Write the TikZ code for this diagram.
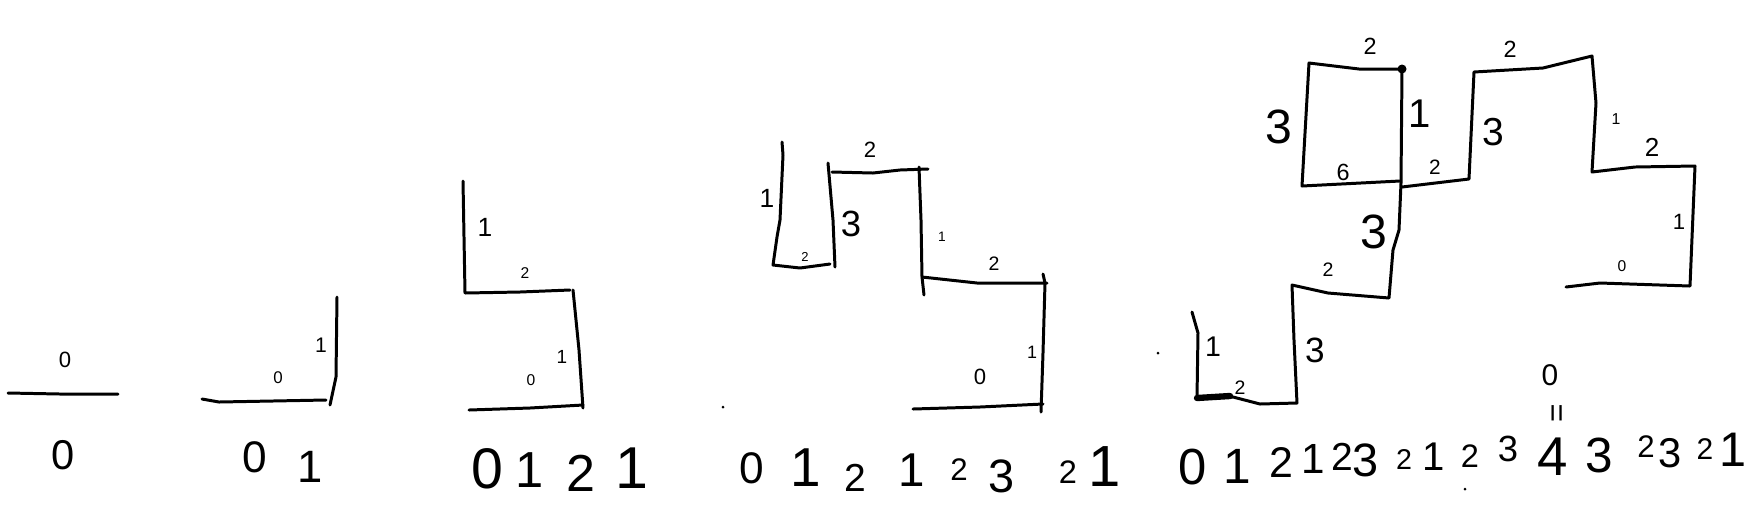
\documentclass[tikz,border=0pt]{standalone}
\usepackage{fontspec}
\setmainfont{Liberation Sans}
\begin{document}
\begin{tikzpicture}[x=0.01cm,y=-0.01cm,
  pen/.style={line width=0.85pt, line cap=round, line join=round},
  thickpen/.style={line width=1.8pt, line cap=round},
  digit/.style={inner sep=0pt, font=\fontsize{#1 pt}{#1 pt}\selectfont}]
\useasboundingbox (0,0) rectangle (1760,508);
% ---------- figure 1
\draw[pen] (8,393) -- (60,394) -- (118,394);
% ---------- figure 2
\draw[pen] (202,399) -- (219,402) -- (326,400);
\draw[pen] (337,297) -- (336,377) -- (330,405);
% ---------- figure 3
\draw[pen] (463,181) -- (465,293) -- (520,292) -- (570,290);
\draw[pen] (573,290) -- (579,350) -- (583,408);
\draw[pen] (469,410) -- (530,408) -- (583,405);
% ---------- figure 4
\draw[pen] (782,142) -- (783,155) -- (780,220) -- (777,237) -- (773,265) -- (800,268) -- (830,264);
\draw[pen] (828,163) -- (833,220) -- (835,267);
\draw[pen] (832,172) -- (873,173) -- (900,170) -- (928,169);
\draw[pen] (919,167) -- (921,220) -- (922,277) -- (924,295);
\draw[pen] (922,277) -- (977,283) -- (1047,283);
\draw[pen] (1043,274) -- (1045,283) -- (1043,353) -- (1041,412);
\draw[pen] (913,409) -- (980,407) -- (1043,404);
\fill (723,407) circle (1.5);
% ---------- figure 5
\draw[pen] (1402,69) -- (1359,69) -- (1309,63) -- (1302,186) -- (1400,181);
\draw[pen] (1402,69) -- (1401,183) -- (1399,230) -- (1393,250) -- (1389,298)
  -- (1328,293) -- (1292,285) -- (1294,340) -- (1297,403)
  -- (1260,404) -- (1233,397) -- (1197,398) -- (1198,333) -- (1192,312);
\draw[thickpen] (1197,398) -- (1230,396);
\draw[pen] (1402,187) -- (1469,179) -- (1474,72) -- (1543,68) -- (1592,56)
  -- (1596,103) -- (1592,172) -- (1635,167) -- (1695,166) -- (1690,286)
  -- (1600,283) -- (1566,287);
\fill (1402,69) circle (4.5);
\fill (1158,353) circle (1.5);
\fill (1465,489) circle (1.5);
% ---------- labels (name/x/y/height in px/text)
\foreach \n/\x/\y/\h/\t in {
  a1/65/360/17/0, a2/63/455/32/0,
  b1/278/378/13/0, b2/321/345/20/1, b3/255/457/34/0, b4/310/467/43/1,
  c1/485/227/25/1, c2/525/273/12/2, c3/531/380/12/0, c4/562/357/18/1,
  c5/487/469/44/0, c6/530/470/48/1, c7/581/473/40/2, c8/632/468/56/1,
  d1/767/198/25/1, d2/805/257/10/2, d3/851/224/28/3, d4/870/150/17/2,
  d5/942/237/13/1, d6/994/264/15/2, d7/980/377/17/0, d8/1032/352/17/1,
  d9/752/468/34/0, d10/806/468/52/1, d11/855/478/30/2, d12/912/470/45/1,
  d13/959/470/24/2, d14/1002/476/36/3, d15/1068/472/25/2, d16/1105/467/55/1,
  e1/1370/46/18/2, e2/1279/127/37/3, e3/1420/114/38/1, e4/1343/172/18/6,
  e5/1435/167/16/2, e6/1493/132/30/3, e7/1510/49/18/2, e8/1616/119/15/1,
  e9/1652/147/20/2, e10/1679/222/21/1, e11/1622/266/12/0, e12/1374/232/37/3,
  e13/1328/270/15/2, e14/1213/347/27/1, e15/1240/388/15/2, e16/1315/350/27/3,
  f1/1193/467/39/0, f2/1237/466/47/1, f3/1281/462/33/2, f4/1313/459/40/1,
  f5/1342/457/30/2, f6/1366/460/36/3, f7/1404/459/22/2, f8/1434/457/38/1,
  f9/1470/456/25/2, f10/1508/449/28/3, f11/1553/457/42/4, f12/1599/455/38/3,
  f13/1646/447/24/2, f14/1670/453/32/3, f15/1705/449/23/2, f16/1733/450/46/1,
  f17/1550/375/23/0}
{
  \pgfmathsetmacro\fs{\h*(\t==1 ? 0.3 : 0.37)}
  \node[digit=\fs] (\n) at (\x,\y) {\t};
}
\node[digit=9, rotate=90] (eq) at (1560,413) {=};
\end{tikzpicture}
\end{document}
